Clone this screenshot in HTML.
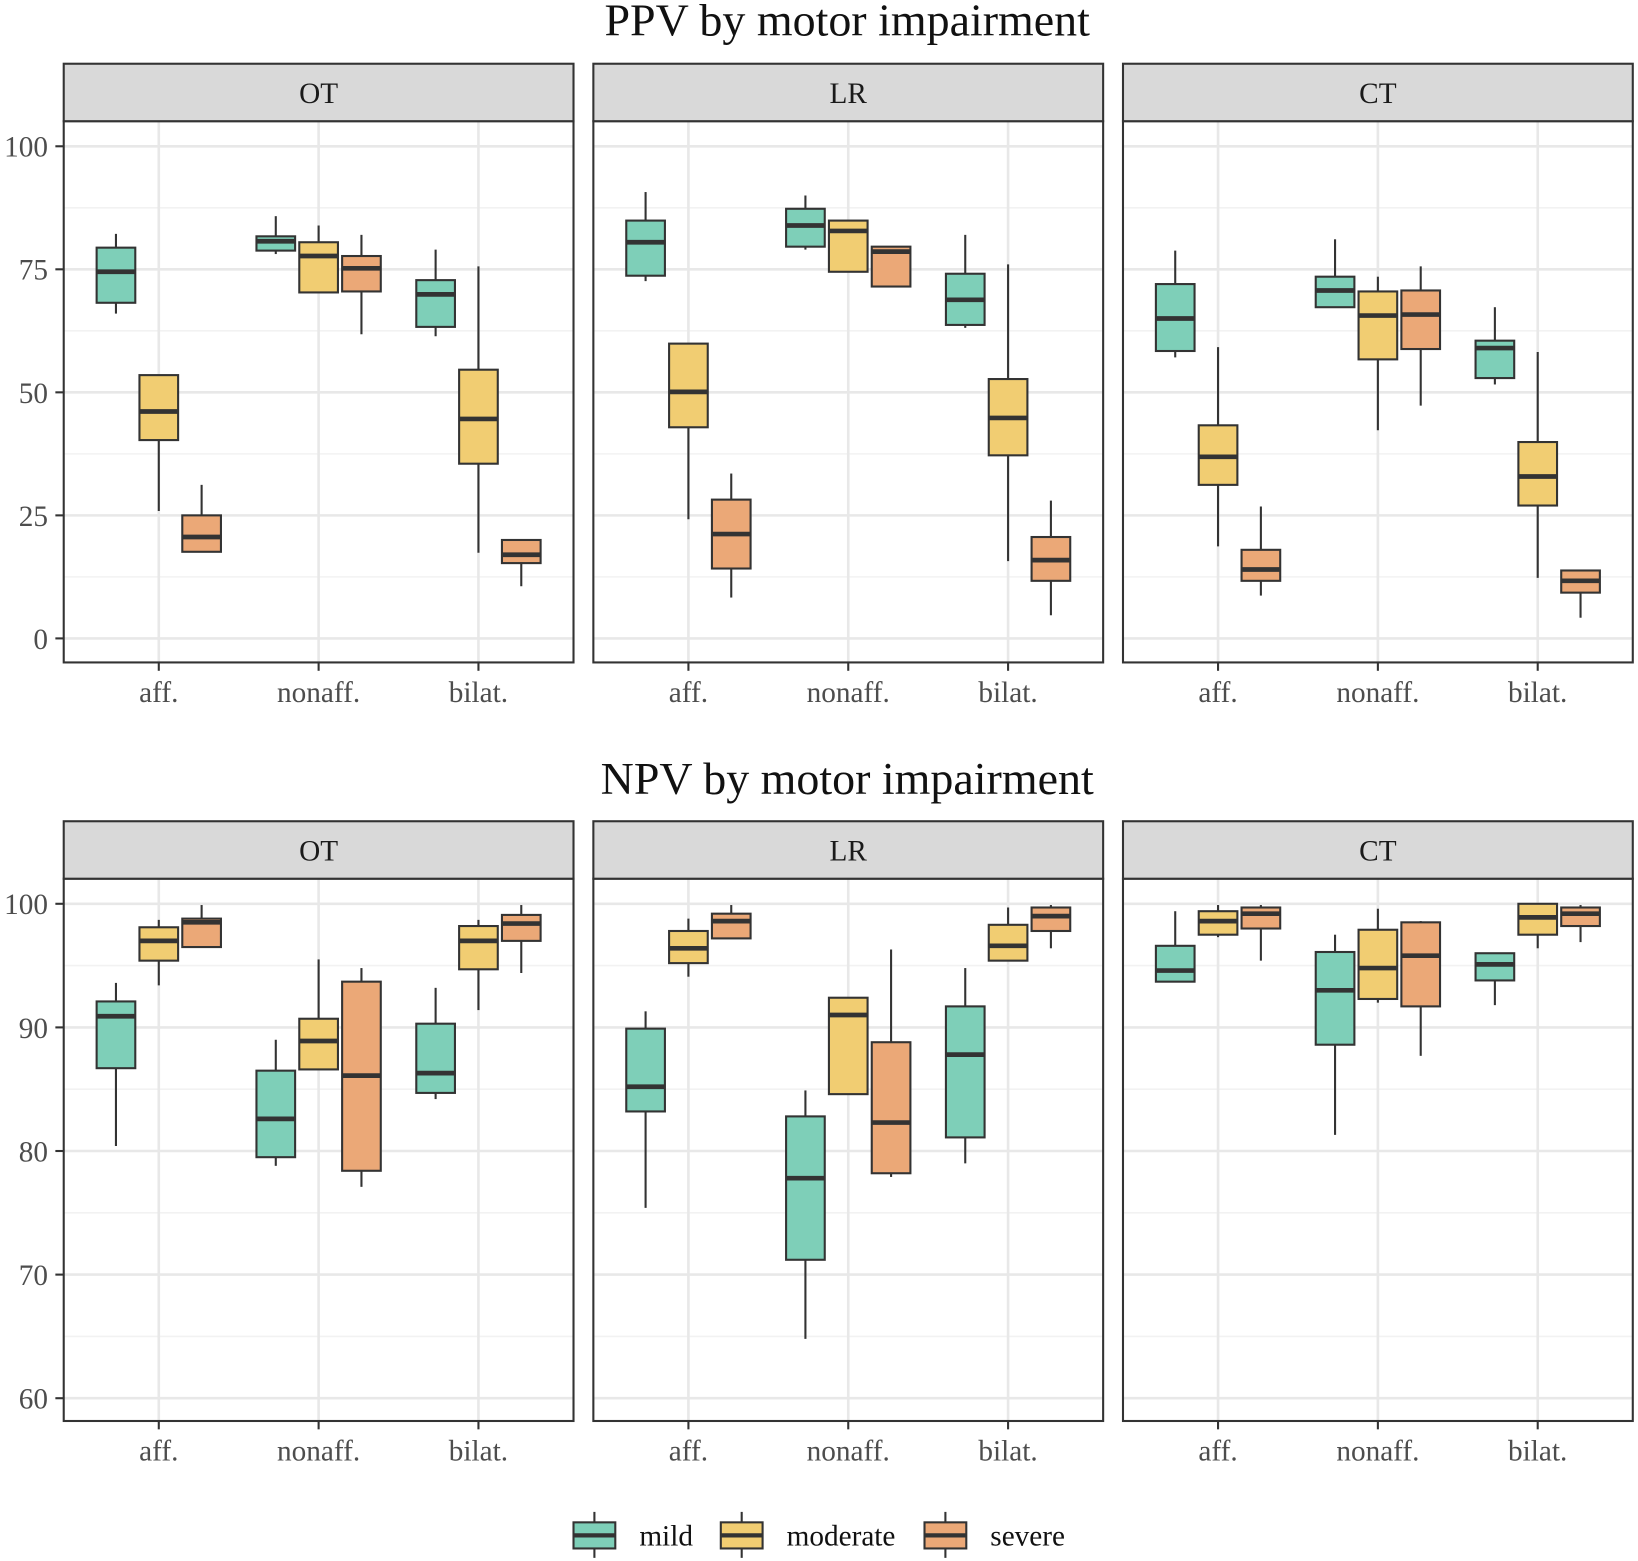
<!DOCTYPE html>
<html><head><meta charset="utf-8">
<style>
html,body{margin:0;padding:0;background:#fff;}
svg{display:block;font-family:"Liberation Serif",serif;}
</style></head>
<body>
<svg id="chart" width="1638" height="1561" viewBox="0 0 1568 1494" preserveAspectRatio="none" xmlns="http://www.w3.org/2000/svg"></svg>
<script>
// ---- data ----
const facets = ["OT","LR","CT"];
const categories = ["aff.","nonaff.","bilat."];
const groups = ["mild","moderate","severe"];
const colors = ["#7ecfb8","#f1cd72","#eba877"];
// each box: [lowWhisker, q1, median, q3, highWhisker]; order facet -> category -> group
const ppvOT = [
 [[66,68.2,74.5,79.4,82.2],[25.9,40.3,46.1,53.5,53.5],[17.6,17.6,20.6,25,31.2]],
 [[78.1,78.8,80.7,81.7,85.8],[70.3,70.3,77.7,80.5,83.9],[61.8,70.5,75.2,77.7,82]],
 [[61.4,63.3,69.9,72.8,79],[17.4,35.5,44.6,54.6,75.6],[10.6,15.3,17,20,20]]];
const ppvLR = [
 [[72.6,73.7,80.5,84.9,90.7],[24.2,42.9,50.1,59.9,59.9],[8.3,14.2,21.2,28.2,33.5]],
 [[79,79.6,83.9,87.3,90],[74.5,74.5,82.8,84.9,84.9],[71.5,71.5,78.6,79.6,79.6]],
 [[63.1,63.7,68.8,74.1,82],[15.7,37.2,44.8,52.7,76],[4.7,11.7,15.9,20.6,28]]];
const ppvCT = [
 [[57.1,58.4,65,72,78.8],[18.7,31.2,36.9,43.3,59.2],[8.7,11.7,14,18,26.8]],
 [[67.3,67.3,70.7,73.5,81.1],[42.3,56.7,65.6,70.5,73.5],[47.3,58.8,65.8,70.7,75.6]],
 [[51.6,52.9,59,60.5,67.3],[12.3,27,32.9,39.9,58.2],[4.2,9.3,11.7,13.8,13.8]]];
const npvOT = [
 [[80.4,86.7,90.9,92.1,93.6],[93.4,95.4,97,98.1,98.7],[96.5,96.5,98.5,98.8,99.9]],
 [[78.8,79.5,82.6,86.5,89],[86.6,86.6,88.9,90.7,95.5],[77.1,78.4,86.1,93.7,94.8]],
 [[84.2,84.7,86.3,90.3,93.2],[91.4,94.7,97,98.2,98.7],[94.4,97,98.4,99.1,99.9]]];
const npvLR = [
 [[75.4,83.2,85.2,89.9,91.3],[94.1,95.2,96.4,97.8,98.8],[97.2,97.2,98.6,99.2,99.9]],
 [[64.8,71.2,77.8,82.8,84.9],[84.6,84.6,91,92.4,92.4],[77.9,78.2,82.3,88.8,96.3]],
 [[79,81.1,87.8,91.7,94.8],[95.4,95.4,96.6,98.3,99.7],[96.4,97.8,99,99.7,99.9]]];
const npvCT = [
 [[93.7,93.7,94.6,96.6,99.4],[97.3,97.5,98.6,99.4,99.9],[95.4,98,99.2,99.7,99.9]],
 [[81.3,88.6,93,96.1,97.5],[92,92.3,94.8,97.9,99.6],[87.7,91.7,95.8,98.5,98.6]],
 [[91.8,93.8,95.1,96,96],[96.4,97.5,98.9,100,100],[96.9,98.2,99.2,99.7,99.9]]];
const ppvTicks = [0,25,50,75,100];
const npvTicks = [60,70,80,90,100];

const svg = document.getElementById('chart');
const NS = "http://www.w3.org/2000/svg";
function mk(tag, attrs, parent){const e=document.createElementNS(NS,tag);for(const k in attrs)e.setAttribute(k,attrs[k]);(parent||svg).appendChild(e);return e;}

const panelX = [61,568,1075], panelW = 488;
const catOff = [91,244,397], dodge = [-41,0,41], boxW = 37;

function drawRow(opts){
  const {title,titleY,stripTop,bodyTop,bodyBot,yScale,ticks,minor,data,rowName}=opts;
  const t = mk('text',{x:811,y:titleY,'text-anchor':'middle','font-size':44,fill:'#111'});
  t.textContent = title;
  
  
  facets.forEach((f,fi)=>{
    const px = panelX[fi];
    const g = mk('g',{});
    
    
    minor.forEach(v=>{mk('line',{x1:px,x2:px+panelW,y1:yScale(v),y2:yScale(v),stroke:'#f2f2f2','stroke-width':1.5},g);});
    ticks.forEach(v=>{mk('line',{x1:px,x2:px+panelW,y1:yScale(v),y2:yScale(v),stroke:'#e8e8e8','stroke-width':2.5},g);});
    catOff.forEach(o=>{mk('line',{x1:px+o,x2:px+o,y1:bodyTop,y2:bodyBot,stroke:'#e8e8e8','stroke-width':2.5},g);});
    data[fi].forEach((cat,ci)=>{
      cat.forEach((b,gi)=>{
        const cx = px+catOff[ci]+dodge[gi];
        const bg = mk('g',{},g);
        
        
        mk('line',{x1:cx,x2:cx,y1:yScale(b[4]),y2:yScale(b[3]),stroke:'#333','stroke-width':2},bg);
        mk('line',{x1:cx,x2:cx,y1:yScale(b[1]),y2:yScale(b[0]),stroke:'#333','stroke-width':2},bg);
        mk('rect',{x:cx-boxW/2,y:yScale(b[3]),width:boxW,height:Math.max(0.5,yScale(b[1])-yScale(b[3])),fill:colors[gi],stroke:'#333','stroke-width':2},bg);
        mk('line',{x1:cx-boxW/2,x2:cx+boxW/2,y1:yScale(b[2]),y2:yScale(b[2]),stroke:'#333','stroke-width':4.5},bg);
      });
    });
    mk('rect',{x:px,y:bodyTop,width:panelW,height:bodyBot-bodyTop,fill:'none',stroke:'#333','stroke-width':2},g);
    const s = mk('rect',{x:px,y:stripTop,width:panelW,height:bodyTop-stripTop,fill:'#d9d9d9',stroke:'#333','stroke-width':2});
    
    
    const st = mk('text',{x:px+panelW/2,y:stripTop+(bodyTop-stripTop)/2+10,'text-anchor':'middle','font-size':28,fill:'#1a1a1a'});
    st.textContent = f;
    catOff.forEach((o,ci)=>{
      mk('line',{x1:px+o,x2:px+o,y1:bodyBot,y2:bodyBot+8,stroke:'#333','stroke-width':2});
      const xl = mk('text',{x:px+o,y:bodyBot+38,'text-anchor':'middle','font-size':28,fill:'#4d4d4d'});
      xl.textContent = categories[ci];
      
      
    });
  });
  ticks.forEach(v=>{
    mk('line',{x1:53,x2:61,y1:yScale(v),y2:yScale(v),stroke:'#333','stroke-width':2});
    const yl = mk('text',{x:46,y:yScale(v)+10,'text-anchor':'end','font-size':28,fill:'#4d4d4d'});
    yl.textContent = v;
    
    
  });
}

drawRow({title:'PPV by motor impairment',titleY:34,stripTop:61,bodyTop:116,bodyBot:634,
  yScale:v=>611-v*4.71,ticks:ppvTicks,minor:[12.5,37.5,62.5,87.5],
  data:[ppvOT,ppvLR,ppvCT],rowName:'ppv'});
drawRow({title:'NPV by motor impairment',titleY:760,stripTop:786,bodyTop:841,bodyBot:1360,
  yScale:v=>865+(100-v)*11.83,ticks:npvTicks,minor:[65,75,85,95],
  data:[npvOT,npvLR,npvCT],rowName:'npv'});

const legX=[549,690,885], legTX=[612,753,948];
groups.forEach((gname,i)=>{
  const lg = mk('g',{});
  
  
  const cx = legX[i]+20;
  mk('line',{x1:cx,x2:cx,y1:1447,y2:1491,stroke:'#333','stroke-width':2},lg);
  mk('rect',{x:legX[i],y:1457,width:40,height:25,fill:colors[i],stroke:'#333','stroke-width':2},lg);
  mk('line',{x1:legX[i],x2:legX[i]+40,y1:1469.5,y2:1469.5,stroke:'#333','stroke-width':4},lg);
  const lt = mk('text',{x:legTX[i],y:1479,'font-size':28,fill:'#111'},lg);
  lt.textContent = gname;
});
</script>
</body></html>
